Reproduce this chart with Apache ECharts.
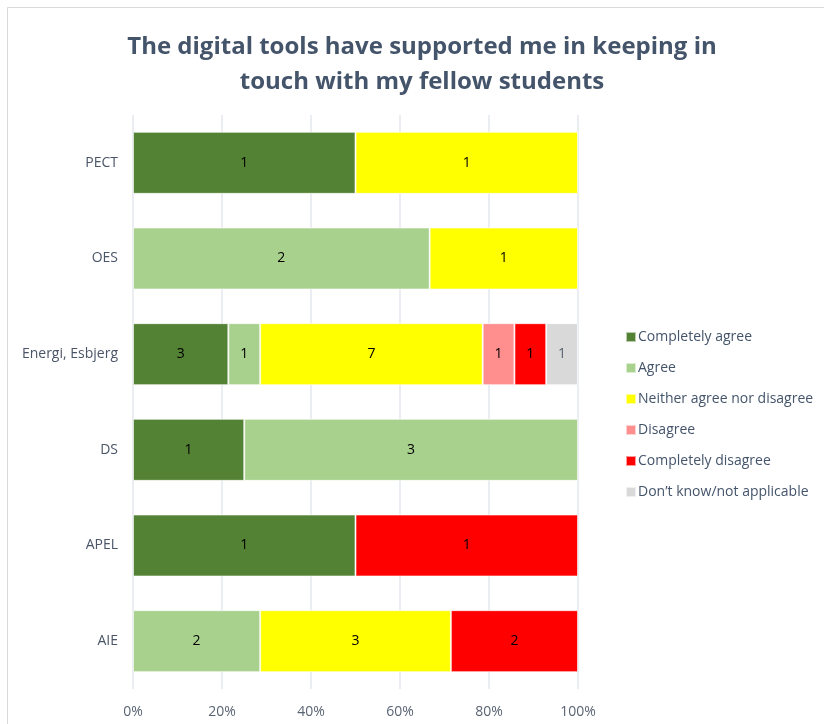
<!DOCTYPE html>
<html><head><meta charset="utf-8">
<script src="https://cdn.jsdelivr.net/npm/echarts@6/dist/echarts.min.js"></script>
<style>html,body{margin:0;padding:0;background:#fff}#c{width:824px;height:724px}</style>
</head><body><div id="c"></div>
<script>
var categories = ['PECT', 'OES', 'Energi, Esbjerg', 'DS', 'APEL', 'AIE'];
var seriesNames = ['Completely agree', 'Agree', 'Neither agree nor disagree', 'Disagree', 'Completely disagree', 'Don\u2019t know/not applicable'];
var completelyAgree = [1, 0, 3, 1, 1, 0];
var agree = [0, 2, 1, 3, 0, 2];
var neither = [1, 1, 7, 0, 0, 3];
var disagree = [0, 0, 1, 0, 0, 0];
var completelyDisagree = [0, 0, 1, 0, 1, 2];
var dontKnow = [0, 0, 1, 0, 0, 0];
var xTicks = [0, 20, 40, 60, 80, 100];
var colors = ['#548235', '#A9D18E', '#FFFF00', '#FF8F8F', '#FF0000', '#D9D9D9'];
var labelColors = ['#000', '#000', '#000', '#000', '#000', '#5A6474'];

var allCounts = [completelyAgree, agree, neither, disagree, completelyDisagree, dontKnow];
var totals = categories.map(function (c, i) {
  return allCounts.reduce(function (s, a) { return s + a[i]; }, 0);
});

var series = allCounts.map(function (counts, k) {
  return {
    name: seriesNames[k],
    type: 'bar',
    stack: 'total',
    barWidth: 62,
    itemStyle: { color: colors[k], borderColor: 'rgba(255,255,255,0.6)', borderWidth: 1 },
    label: {
      show: true, position: 'inside', color: labelColors[k],
      fontFamily: 'Open Sans', fontSize: 14,
      formatter: function (p) { return counts[p.dataIndex] ? String(counts[p.dataIndex]) : ''; }
    },
    data: counts.map(function (v, i) { return v ? v / totals[i] * 100 : null; })
  };
});

var chart = echarts.init(document.getElementById('c'), null, { renderer: 'canvas' });
chart.setOption({
  animation: false,
  backgroundColor: '#fff',
  title: {
    text: 'The digital tools have supported me in keeping in\ntouch with my fellow students',
    left: 417, top: 25, textAlign: 'center',
    textStyle: { fontFamily: 'Open Sans', fontWeight: 'bold', fontSize: 24, color: '#44546A', lineHeight: 35 }
  },
  graphic: [{
    type: 'rect', shape: { x: 7.5, y: 7.5, width: 830, height: 730 },
    style: { fill: 'none', stroke: '#D9D9D9', lineWidth: 1 }, silent: true
  }],
  legend: {
    orient: 'vertical', left: 620, top: 324,
    itemWidth: 10, itemHeight: 10, itemGap: 15,
    icon: 'rect',
    textStyle: { fontFamily: 'Open Sans', fontSize: 14, color: '#44546A', lineHeight: 16, padding: [0, 0, 0, -3] },
    data: seriesNames
  },
  grid: { left: 133, right: 246, top: 115, bottom: 35, containLabel: false },
  xAxis: {
    type: 'value', min: 0, max: 100, interval: 20,
    axisLine: { show: false },
    axisTick: { show: false },
    splitLine: { show: true, lineStyle: { color: '#E3E7EC', width: 1.5 } },
    axisLabel: {
      fontFamily: 'Open Sans', fontSize: 14, color: '#5A6474', margin: 16,
      formatter: function (v) { return xTicks.indexOf(v) >= 0 ? v + '%' : ''; }
    }
  },
  yAxis: {
    type: 'category', data: categories, inverse: true,
    axisLine: { show: false }, axisTick: { show: false },
    axisLabel: { fontFamily: 'Open Sans', fontSize: 14, color: '#4A5568', margin: 15 }
  },
  series: series
});
</script>
</body></html>
